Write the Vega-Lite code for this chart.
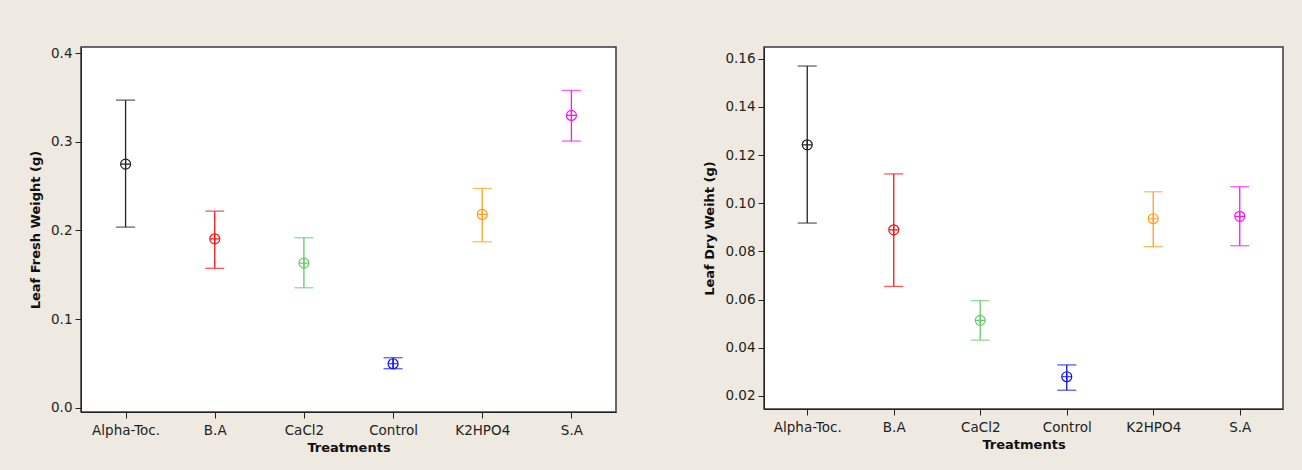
{
  "$schema": "https://vega.github.io/schema/vega-lite/v6.json",
  "background": "#EEEAE1",
  "padding": {"left": 28, "top": 45, "right": 18, "bottom": 16},
  "bounds": "flush",
  "spacing": 148,
  "datasets": {
    "fresh": [
      {"Treatment": "Alpha-Toc.", "lower": 0.2037, "mean": 0.2747, "upper": 0.3469},
      {"Treatment": "B.A", "lower": 0.1572, "mean": 0.1905, "upper": 0.2217},
      {"Treatment": "CaCl2", "lower": 0.1353, "mean": 0.1631, "upper": 0.1917},
      {"Treatment": "Control", "lower": 0.0440, "mean": 0.0496, "upper": 0.0564},
      {"Treatment": "K2HPO4", "lower": 0.1871, "mean": 0.2180, "upper": 0.2473},
      {"Treatment": "S.A", "lower": 0.3007, "mean": 0.3296, "upper": 0.3578}
    ],
    "dry": [
      {"Treatment": "Alpha-Toc.", "lower": 0.0918, "mean": 0.1243, "upper": 0.1570},
      {"Treatment": "B.A", "lower": 0.0655, "mean": 0.0890, "upper": 0.1122},
      {"Treatment": "CaCl2", "lower": 0.0432, "mean": 0.0514, "upper": 0.0596},
      {"Treatment": "Control", "lower": 0.0224, "mean": 0.0280, "upper": 0.0329},
      {"Treatment": "K2HPO4", "lower": 0.0820, "mean": 0.0936, "upper": 0.1048},
      {"Treatment": "S.A", "lower": 0.0824, "mean": 0.0946, "upper": 0.1069}
    ]
  },
  "hconcat": [
    {
      "width": 535,
      "height": 365,
      "data": {"name": "fresh"},
      "encoding": {
        "x": {
          "field": "Treatment",
          "type": "nominal",
          "sort": null,
          "scale": {"type": "point", "padding": 0.5},
          "axis": {"title": "Treatments", "labelAngle": 0}
        },
        "color": {
          "field": "Treatment",
          "type": "nominal",
          "sort": null,
          "scale": {
            "domain": ["Alpha-Toc.", "B.A", "CaCl2", "Control", "K2HPO4", "S.A"],
            "range": ["#222222", "#FF1111", "#66CC66", "#1111FF", "#FF9F1F", "#FF11FF"]
          },
          "legend": null
        }
      },
      "layer": [
        {
          "mark": {"type": "rule", "strokeWidth": 1.3},
          "encoding": {
            "y": {
              "field": "lower",
              "type": "quantitative",
              "scale": {"domain": [-0.0048, 0.4068], "nice": false, "zero": false},
              "axis": {"title": "Leaf Fresh Weight (g)", "values": [0, 0.1, 0.2, 0.3, 0.4], "format": ".1f"}
            },
            "y2": {"field": "upper"}
          }
        },
        {
          "mark": {"type": "tick", "size": 19, "thickness": 1.3},
          "encoding": {"y": {"field": "upper", "type": "quantitative"}}
        },
        {
          "mark": {"type": "tick", "size": 19, "thickness": 1.3},
          "encoding": {"y": {"field": "lower", "type": "quantitative"}}
        },
        {
          "mark": {
            "type": "point",
            "filled": false,
            "shape": "M-1,0A1,1,0,1,0,1,0A1,1,0,1,0,-1,0ZM-1,0H1M0,-1V1",
            "size": 100,
            "strokeWidth": 1.2,
            "opacity": 1
          },
          "encoding": {"y": {"field": "mean", "type": "quantitative"}}
        }
      ]
    },
    {
      "width": 519,
      "height": 362,
      "data": {"name": "dry"},
      "encoding": {
        "x": {
          "field": "Treatment",
          "type": "nominal",
          "sort": null,
          "scale": {"type": "point", "padding": 0.5},
          "axis": {"title": "Treatments", "labelAngle": 0}
        },
        "color": {
          "field": "Treatment",
          "type": "nominal",
          "sort": null,
          "legend": null
        }
      },
      "layer": [
        {
          "mark": {"type": "rule", "strokeWidth": 1.3},
          "encoding": {
            "y": {
              "field": "lower",
              "type": "quantitative",
              "scale": {"domain": [0.0146, 0.1649], "nice": false, "zero": false},
              "axis": {"title": "Leaf Dry Weiht (g)", "values": [0.02, 0.04, 0.06, 0.08, 0.10, 0.12, 0.14, 0.16], "format": ".2f"}
            },
            "y2": {"field": "upper"}
          }
        },
        {
          "mark": {"type": "tick", "size": 19, "thickness": 1.3},
          "encoding": {"y": {"field": "upper", "type": "quantitative"}}
        },
        {
          "mark": {"type": "tick", "size": 19, "thickness": 1.3},
          "encoding": {"y": {"field": "lower", "type": "quantitative"}}
        },
        {
          "mark": {
            "type": "point",
            "filled": false,
            "shape": "M-1,0A1,1,0,1,0,1,0A1,1,0,1,0,-1,0ZM-1,0H1M0,-1V1",
            "size": 100,
            "strokeWidth": 1.2,
            "opacity": 1
          },
          "encoding": {"y": {"field": "mean", "type": "quantitative"}}
        }
      ]
    }
  ],
  "config": {
    "view": {"fill": "white", "stroke": "#3A3A3A", "strokeWidth": 1.5},
    "font": "DejaVu Sans",
    "axis": {
      "grid": false,
      "domainColor": "#222222",
      "domainWidth": 1,
      "tickColor": "#222222",
      "tickSize": 6,
      "labelFont": "DejaVu Sans",
      "labelFontSize": 13.5,
      "labelColor": "#222222",
      "titleFont": "DejaVu Sans",
      "titleFontSize": 13,
      "titleFontWeight": "bold",
      "titleColor": "#111111"
    },
    "axisX": {"labelPadding": 5, "titlePadding": 5},
    "axisY": {"labelPadding": 3, "titlePadding": 8}
  }
}
